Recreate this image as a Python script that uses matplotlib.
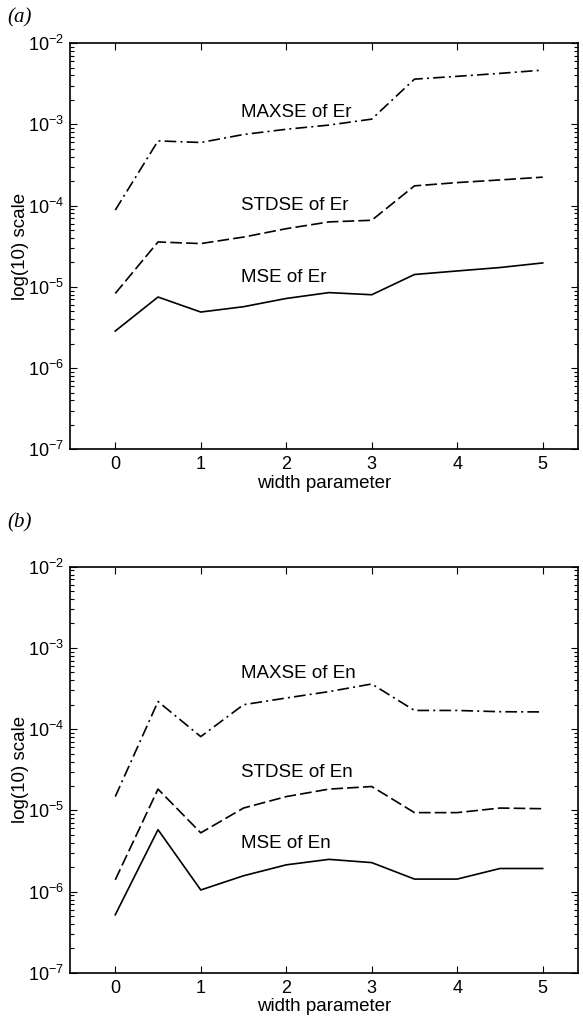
import numpy as np
import matplotlib.pyplot as plt

plt.rcParams['font.family'] = ['Liberation Sans', 'DejaVu Sans']
plt.rcParams['axes.unicode_minus'] = False

# ======================================================
# Data
# ======================================================

width = [0, 0.5, 1, 1.5, 2, 2.5, 3, 3.5, 4, 4.5, 5]

# panel (a): errors of Er
mse_er = [2.86e-6, 7.5e-6, 4.9e-6, 5.7e-6, 7.2e-6, 8.5e-6, 8.0e-6, 1.42e-5, 1.57e-5, 1.73e-5, 1.97e-5]
stdse_er = [8.3e-6, 3.57e-5, 3.41e-5, 4.1e-5, 5.2e-5, 6.3e-5, 6.6e-5, 1.75e-4, 1.92e-4, 2.07e-4, 2.24e-4]
maxse_er = [8.8e-5, 6.26e-4, 5.98e-4, 7.5e-4, 8.7e-4, 9.8e-4, 1.16e-3, 3.6e-3, 3.9e-3, 4.24e-3, 4.65e-3]

# panel (b): errors of En
mse_en = [5.2e-7, 5.8e-6, 1.05e-6, 1.57e-6, 2.14e-6, 2.5e-6, 2.28e-6, 1.43e-6, 1.43e-6, 1.93e-6, 1.93e-6]
stdse_en = [1.4e-6, 1.83e-5, 5.3e-6, 1.07e-5, 1.48e-5, 1.83e-5, 1.97e-5, 9.4e-6, 9.4e-6, 1.07e-5, 1.05e-5]
maxse_en = [1.48e-5, 2.19e-4, 8.1e-5, 2.0e-4, 2.42e-4, 2.9e-4, 3.6e-4, 1.7e-4, 1.7e-4, 1.64e-4, 1.63e-4]

labels_a = ["MAXSE of Er", "STDSE of Er", "MSE of Er"]
label_y_a = [1.39e-3, 1.01e-4, 1.3e-5]
labels_b = ["MAXSE of En", "STDSE of En", "MSE of En"]
label_y_b = [4.8e-4, 2.9e-5, 3.9e-6]
label_x = 1.476

xticks = [0, 1, 2, 3, 4, 5]


# ======================================================
# Drawing
# ======================================================

def panel(ax, mse, stdse, maxse, labels, label_y):
    lw = 1.2
    ax.plot(width, mse, color="black", lw=lw, linestyle="-")
    ax.plot(width, stdse, color="black", lw=lw, linestyle=(0, (7, 2.5)))
    ax.plot(width, maxse, color="black", lw=lw, linestyle=(0, (7, 2.5, 1.2, 2.5)))

    for txt, y in zip(labels, label_y):
        ax.text(label_x, y, txt, fontsize=13.5, va="center", ha="left")

    ax.set_yscale("log")
    ax.set_ylim(1e-7, 1e-2)
    ax.set_xlim(-0.53, 5.41)
    ax.set_xticks(xticks)
    ax.set_xticklabels([str(t) for t in xticks])

    ax.tick_params(which="both", direction="in", top=True, right=True,
                   labelsize=13, width=0.8)
    ax.tick_params(axis="x", which="major", length=5, pad=5)
    ax.tick_params(axis="y", which="major", length=5, pad=4)
    ax.tick_params(axis="y", which="minor", length=3)
    for s in ax.spines.values():
        s.set_linewidth(1.2)

    ax.set_xlabel("width parameter", fontsize=13.5, labelpad=1)
    ax.set_ylabel("log(10) scale", fontsize=13.5)
    ax.yaxis.set_label_coords(-0.08, 0.5)


fig = plt.figure(figsize=(5.83, 10.26), dpi=100)

ax_a = fig.add_axes([0.12, 0.562, 0.871, 0.396])
ax_b = fig.add_axes([0.12, 0.0517, 0.871, 0.396])

panel(ax_a, mse_er, stdse_er, maxse_er, labels_a, label_y_a)
panel(ax_b, mse_en, stdse_en, maxse_en, labels_b, label_y_b)

fig.text(0.012, 0.983, "(a)", fontsize=15, style="italic",
         family=["Liberation Serif", "DejaVu Serif"], va="center")
fig.text(0.012, 0.490, "(b)", fontsize=15, style="italic",
         family=["Liberation Serif", "DejaVu Serif"], va="center")

fig.savefig("out.png", dpi=100)
